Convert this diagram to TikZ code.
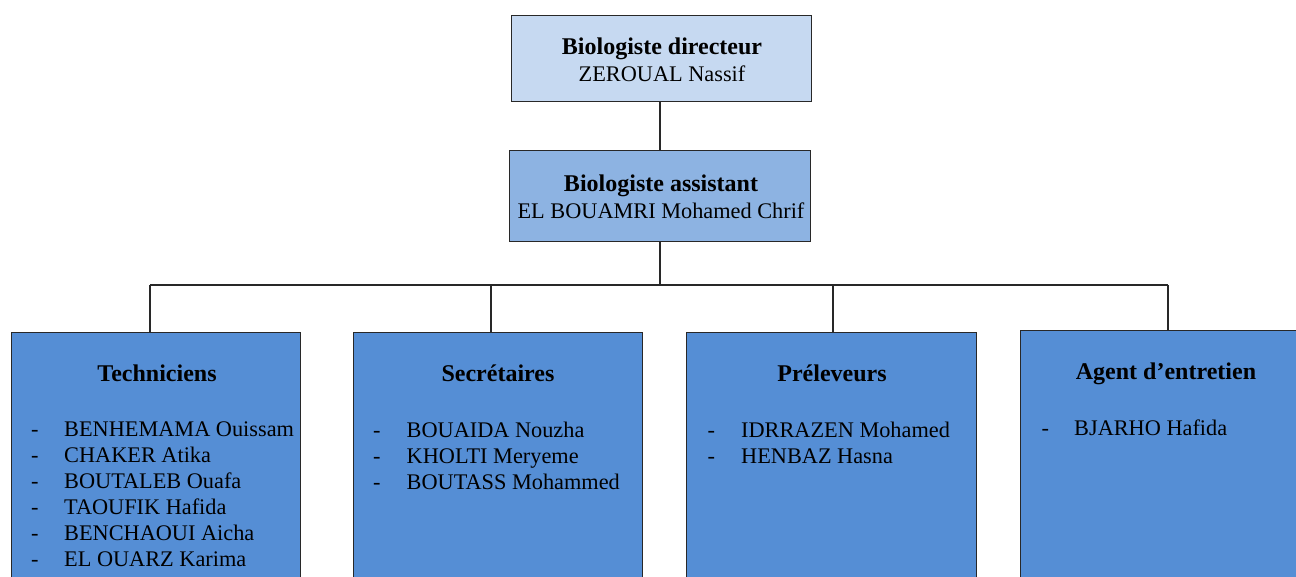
\documentclass[tikz,border=0pt]{standalone}
\usepackage{fontspec}
\setmainfont{Liberation Serif}
\definecolor{dirfill}{RGB}{198,217,241}
\definecolor{asfill}{RGB}{141,179,226}
\definecolor{grpfill}{RGB}{85,142,213}
\definecolor{edge}{RGB}{40,40,40}
\begin{document}
\begin{tikzpicture}[x=1pt,y=-1pt,
  box/.style={draw=edge, line width=1.3pt, inner sep=0pt, anchor=north west, rectangle},
  titletext/.style={font=\fontsize{24}{28}\selectfont\bfseries, anchor=base, inner sep=0pt},
  nametext/.style={font=\fontsize{22.3}{26}\selectfont, anchor=base west, inner sep=0pt},
  centertext/.style={font=\fontsize{22.3}{26}\selectfont, anchor=base, inner sep=0pt},
  link/.style={draw=edge, line width=1.3pt}]
\useasboundingbox (0,0) rectangle (1296,576);
\clip (0,0) rectangle (1296,576);
% boxes
\node[box, fill=dirfill, minimum width=300pt, minimum height=86pt] (dir) at (511,15) {};
\node[box, fill=asfill, minimum width=301pt, minimum height=91pt] (asst) at (509,150) {};
\node[box, fill=grpfill, minimum width=289pt, minimum height=270pt] (tech) at (11,332) {};
\node[box, fill=grpfill, minimum width=289pt, minimum height=270pt] (sec) at (353,332) {};
\node[box, fill=grpfill, minimum width=290pt, minimum height=270pt] (pre) at (686,332) {};
\node[box, fill=grpfill, minimum width=292pt, minimum height=272pt] (agt) at (1020,330) {};
% connectors
\coordinate (hub) at (660,285);
\coordinate (cT) at (150,285);
\coordinate (cS) at (491,285);
\coordinate (cP) at (833,285);
\coordinate (cA) at (1168,285);
\draw[link] (dir.south -| hub) -- (asst.north -| hub);
\draw[link] (asst.south -| hub) -- (hub);
\draw[link] (cT) -- (cA);
\draw[link] (cT) -- (cT |- tech.north);
\draw[link] (cS) -- (cS |- sec.north);
\draw[link] (cP) -- (cP |- pre.north);
\draw[link] (cA) -- (cA |- agt.north);
% top texts
\node[titletext] (dirT) at (662,54) {Biologiste directeur};
\node[centertext] (dirN) at (662,81.7) {ZEROUAL Nassif};
\node[titletext] (asT) at (661,191.7) {Biologiste assistant};
\node[centertext] (asN) at (661,218.3) {EL BOUAMRI Mohamed Chrif};
% Techniciens
\node[titletext] (techT) at (157,381.7) {Techniciens};
\foreach \n/\y [count=\i] in {BENHEMAMA Ouissam/436,CHAKER Atika/462,BOUTALEB Ouafa/488,TAOUFIK Hafida/514,BENCHAOUI Aicha/540,EL OUARZ Karima/566}{
  \node[nametext] (techD\i) at (31,\y) {-};
  \node[nametext] (techN\i) at (64,\y) {\n};
}
% Secretaires
\node[titletext] (secT) at (498,381.7) {Secrétaires};
\foreach \n/\y [count=\i] in {BOUAIDA Nouzha/437.3,KHOLTI Meryeme/463,BOUTASS Mohammed/489.5}{
  \node[nametext] (secD\i) at (373,\y) {-};
  \node[nametext] (secN\i) at (406.5,\y) {\n};
}
% Preleveurs
\node[titletext] (preT) at (832,381.7) {Préleveurs};
\foreach \n/\y [count=\i] in {IDRRAZEN Mohamed/437.3,HENBAZ Hasna/463}{
  \node[nametext] (preD\i) at (707.5,\y) {-};
  \node[nametext] (preN\i) at (741,\y) {\n};
}
% Agent
\node[titletext] (agtT) at (1166,379) {Agent d’entretien};
\node[nametext] (agtD1) at (1041.5,435) {-};
\node[nametext] (agtN1) at (1074,435) {BJARHO Hafida};
\end{tikzpicture}
\end{document}
